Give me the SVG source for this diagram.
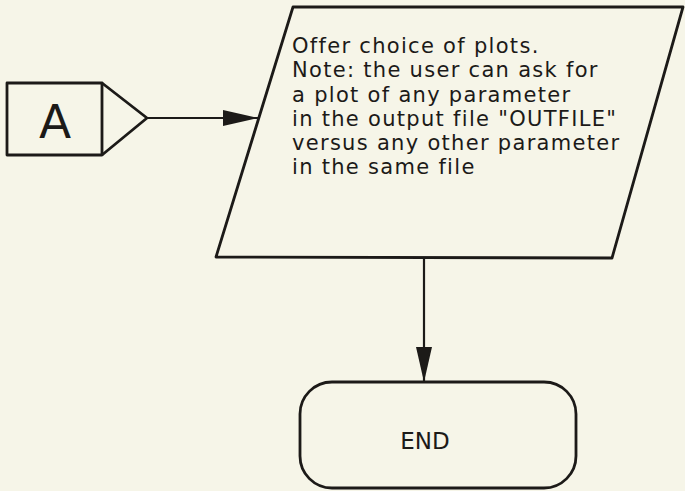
<svg xmlns="http://www.w3.org/2000/svg" width="685" height="491" viewBox="0 0 685 491">
<defs>
<style>
.bg{fill:#f6f5e8}
.sh{fill:none;stroke:#1c1a18;stroke-width:2.8;stroke-linejoin:round}
.ln{fill:none;stroke:#1c1a18;stroke-width:2.2}
.t{font-family:"DejaVu Sans",Verdana,sans-serif;fill:#1c1a18}
</style>
<marker id="ah" markerUnits="userSpaceOnUse" markerWidth="36" markerHeight="18" refX="35" refY="9" orient="auto">
<path d="M0,1 L35,9 L0,17 Z" fill="#1c1a18"/>
</marker>
</defs>
<rect class="bg" x="0" y="0" width="685" height="491"/>
<g id="connectors">
<line class="ln" x1="147" y1="118" x2="258" y2="118" marker-end="url(#ah)"/>
<line class="ln" x1="424" y1="258" x2="424" y2="382" marker-end="url(#ah)"/>
</g>
<g id="connector-A">
<rect class="sh" x="7" y="83" width="95" height="72"/>
<path class="sh" d="M102,83 L147,118 L102,155"/>
<text class="t" x="55" y="138" font-size="47" text-anchor="middle">A</text>
</g>
<g id="plot-choice">
<path class="sh" d="M293,7 L683,7 L612,258 L216,257 Z"/>
<text class="t" font-size="21" letter-spacing="1.3">
<tspan x="292" y="53">Offer choice of plots.</tspan>
<tspan x="292" y="77.3">Note: the user can ask for</tspan>
<tspan x="292" y="101.5">a plot of any parameter</tspan>
<tspan x="292" y="125.8">in the output file "OUTFILE"</tspan>
<tspan x="292" y="150">versus any other parameter</tspan>
<tspan x="292" y="174.3">in the same file</tspan>
</text>
</g>
<g id="end">
<rect class="sh" x="300" y="382" width="276" height="106" rx="32" ry="32"/>
<text class="t" x="425" y="449" font-size="23" text-anchor="middle">END</text>
</g>
</svg>
